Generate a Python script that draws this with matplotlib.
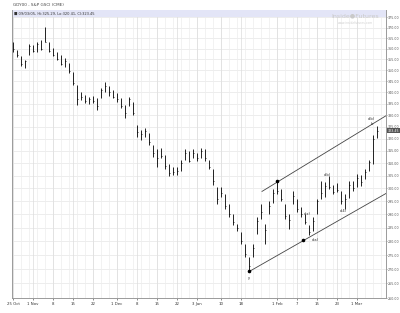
import matplotlib
matplotlib.use("Agg")
import matplotlib.pyplot as plt
from matplotlib.ticker import FixedLocator, NullLocator, FixedFormatter
from matplotlib.patches import Rectangle

title = "GDY00 - S&P GSCI (CME)"
legend_text = "\u25a0 09/03/05, Hi:325.29, Lo:320.41, Cl:323.45"
last_close = 323.45

highs = [363.1, 359.3, 356.5, 354.7, 362.1, 361.7, 363.1, 364.1, 370.3, 363.1,
         360.3, 358.3, 357.0, 355.6, 353.3, 349.2, 343.3, 340.2, 338.9, 338.0,
         338.5, 337.6, 342.0, 344.7, 342.9, 341.1, 339.8, 337.6, 334.5, 338.0,
         335.8, 326.0, 323.9, 324.7, 322.6, 317.6, 315.6, 316.4, 313.5, 309.5,
         308.3, 308.3, 311.5, 315.6, 314.8, 315.6, 314.3, 316.4, 315.6, 311.5,
         307.5, 300.4, 300.4, 297.6, 293.8, 290.0, 286.2, 283.2, 278.9, 274.2,
         278.9, 288.9, 293.8, 286.2, 294.9, 299.6, 302.7, 299.6, 293.8, 290.0,
         298.8, 295.7, 292.7, 290.0, 285.8, 288.9, 295.7, 302.7, 302.3, 304.7,
         301.5, 301.9, 298.8, 297.6, 302.7, 302.7, 305.5, 305.1, 307.5, 311.5,
         321.8, 325.29]
lows = [358.3, 356.0, 351.9, 351.0, 357.0, 358.3, 358.3, 359.3, 363.1, 358.3,
        356.5, 354.7, 352.4, 351.5, 348.9, 343.3, 334.5, 336.7, 335.4, 335.0,
        335.4, 332.4, 337.6, 340.2, 338.5, 337.6, 335.8, 333.2, 329.0, 334.1,
        330.2, 320.9, 319.7, 320.9, 317.6, 312.7, 308.3, 312.3, 307.5, 304.7,
        305.1, 305.1, 306.7, 311.5, 310.3, 312.3, 310.7, 312.3, 310.7, 307.5,
        301.5, 293.8, 296.8, 291.9, 288.9, 285.8, 283.6, 278.9, 274.2, 269.3,
        274.2, 282.5, 288.1, 278.9, 290.0, 294.5, 297.6, 294.9, 288.1, 284.4,
        293.8, 290.8, 288.9, 286.2, 282.2, 283.6, 290.0, 295.7, 296.8, 299.6,
        297.6, 298.4, 293.8, 291.9, 296.4, 298.8, 300.4, 301.1, 303.5, 306.7,
        309.5, 320.41]
closes = [360.0, 357.0, 353.0, 354.0, 361.0, 359.0, 362.0, 360.0, 363.0, 359.0,
          357.0, 355.0, 353.0, 354.0, 349.5, 344.0, 337.0, 338.0, 336.0, 337.0,
          336.0, 334.0, 341.0, 343.0, 340.0, 338.0, 337.0, 334.0, 331.0, 337.0,
          331.0, 323.0, 322.0, 323.5, 318.5, 314.0, 312.0, 313.0, 309.0, 306.0,
          306.5, 307.0, 310.0, 314.0, 311.0, 314.0, 312.0, 315.0, 312.0, 308.5,
          303.0, 296.0, 298.0, 293.0, 290.0, 287.0, 285.0, 280.0, 275.5, 271.0,
          277.5, 287.5, 291.0, 284.0, 293.0, 298.0, 299.0, 296.0, 289.5, 288.0,
          297.0, 292.0, 290.0, 287.0, 283.5, 287.5, 295.0, 298.0, 301.0, 300.5,
          298.5, 299.5, 295.0, 296.0, 301.5, 300.0, 304.0, 302.5, 306.5, 310.5,
          320.0, 323.45]

tick_idx = [0, 5, 10, 15, 20, 26, 31, 36, 41, 46, 52, 57, 66, 71, 76, 81, 86]
tick_labels = ["25 Oct", "1 Nov", "8", "15", "22", "1 Dec", "8", "15", "22",
               "3 Jan", "10", "18", "1 Feb", "7", "15", "23", "1 Mar"]
price_ticks = list(range(260, 380, 5))

upper_channel_x = [62.25, 93.25]
upper_channel_y = [298.8, 329.8]
lower_channel_x = [59.25, 93.25]
lower_channel_y = [269.3, 298.0]
touch_x = [59, 66, 72.5]
touch_y = [269.3, 302.7, 280.3]

wave_labels = ["y", "c(x)", "c(a)", "c(b)", "c(4)", "c(b)", "b"]
wave_x = [59, 73.5, 75.5, 78.5, 82.5, 89.7, 89.7]
wave_y = [266.8, 290.2, 280.6, 305.4, 291.2, 328.3, 326.2]

W, H = 400, 313
fig = plt.figure(figsize=(W / 100, H / 100), dpi=100)
ax = fig.add_axes([12 / W, 1 - 298 / H, (386 - 12) / W, (298 - 10) / H])
ax.set_yscale("log")
ax.set_xlim(-0.25, 93.25)
ax.set_ylim(260, 378.6)

# grid
for v in price_ticks:
    ax.axhline(v, color="#e6e6e6", lw=0.5, zorder=0)
for xv in range(0, 94, 2):
    ax.axvline(xv, color="#ededed", lw=0.5, zorder=0)
for xv in tick_idx:
    ax.axvline(xv, color="#dcdcdc", lw=0.5, zorder=0)

# header band
ax.add_patch(Rectangle((0, 1 - 7 / 288), 1, 7 / 288, transform=ax.transAxes,
                       facecolor="#e3e5f7", edgecolor="none", zorder=1))
ax.text(2 / 374, 1 - 3.5 / 288, legend_text, transform=ax.transAxes,
        fontsize=2.6, color="#333333", va="center", ha="left", zorder=2)

# OHLC bars (high-low + close tick)
idx = list(range(len(highs)))
ax.vlines(idx, lows, highs, color="black", lw=0.6, zorder=3)
ax.hlines(closes, [i for i in idx], [i + 0.35 for i in idx], color="black",
          lw=0.5, zorder=3)

# channels
ax.plot(upper_channel_x, upper_channel_y, color="#444444", lw=0.6, zorder=2)
ax.plot(lower_channel_x, lower_channel_y, color="#444444", lw=0.6, zorder=2)
ax.scatter(touch_x, touch_y, s=2.5, color="black", zorder=4)

for t, xx, yy in zip(wave_labels, wave_x, wave_y):
    ax.text(xx, yy, t, fontsize=2.6, color="#222222", ha="center", va="center",
            zorder=5)

# axes styling
ax.yaxis.tick_right()
ax.yaxis.set_major_locator(FixedLocator(price_ticks))
ax.yaxis.set_major_formatter(FixedFormatter([f"{v:.2f}" for v in price_ticks]))
ax.yaxis.set_minor_locator(NullLocator())
ax.tick_params(axis="y", labelsize=2.3, length=1.0, width=0.4, pad=0.5,
               colors="#555555")
ax.set_xticks(tick_idx)
ax.set_xticklabels(tick_labels)
ax.xaxis.set_minor_locator(NullLocator())
ax.tick_params(axis="x", labelsize=2.8, length=1.5, width=0.4, pad=1.5,
               colors="#333333")
ax.spines["top"].set_visible(False)
for s in ["left", "right", "bottom"]:
    ax.spines[s].set_color("#9a9a9a")
    ax.spines[s].set_linewidth(0.7)

# last price box
ax.text(1.004, last_close, f"{last_close:.2f}",
        transform=ax.get_yaxis_transform(),
        fontsize=2.3, color="white", ha="left", va="center",
        bbox=dict(boxstyle="square,pad=0.2", facecolor="#555555",
                  edgecolor="none"), zorder=6)

# title and watermark
fig.text(13 / W, 1 - 5 / H, title, fontsize=3.0, color="#444444",
         ha="left", va="center")
fig.text(355 / W, 1 - 16 / H, "Inside\u25cfFutures", fontsize=4.5,
         color="#c9c9c9", ha="center", va="center")
fig.text(355 / W, 1 - 22.5 / H, "www.insidefutures.com", fontsize=2.2,
         color="#cfcfcf", ha="center", va="center")

fig.savefig("out.png", dpi=100)
